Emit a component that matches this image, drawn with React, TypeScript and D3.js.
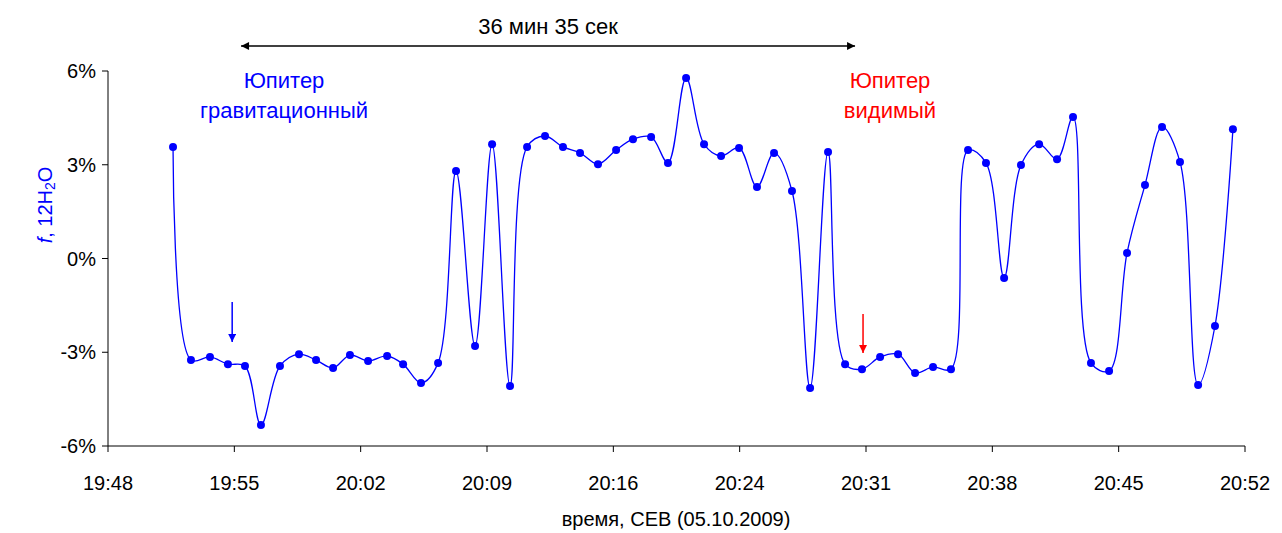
import React from 'react';
import * as d3 from 'd3';

// minutes after 19:48
const minutes = [3.66, 4.67, 5.74, 6.75, 7.71, 8.61, 9.68, 10.75, 11.71, 12.67, 13.62, 14.64, 15.71, 16.61, 17.62, 18.58,
  19.59, 20.66, 21.62, 22.63, 23.59, 24.6, 25.61, 26.57, 27.58, 28.6, 29.55, 30.57, 31.52, 32.54, 33.55, 34.51, 35.52,
  36.53, 37.49, 38.5, 39.52, 40.53, 41.49, 42.44, 43.46, 44.47, 45.43, 46.44, 47.45, 48.41, 49.42, 50.44, 51.39, 52.41,
  53.42, 54.32, 55.33, 56.35, 57.36, 58.37, 59.33, 60.34, 61.36, 62.31, 63.32];
const values = [3.57, -3.25, -3.15, -3.38, -3.44, -5.33, -3.44, -3.06, -3.25, -3.5, -3.09, -3.28, -3.12, -3.38, -3.98, -3.34,
  2.8, -2.8, 3.66, -4.08, 3.57, 3.92, 3.57, 3.38, 3.02, 3.47, 3.82, 3.89, 3.06, 5.78, 3.66, 3.28, 3.54,
  2.29, 3.38, 2.16, -4.14, 3.41, -3.38, -3.54, -3.15, -3.06, -3.66, -3.47, -3.54, 3.47, 3.06, -0.62, 2.99, 3.66,
  3.18, 4.53, -3.34, -3.6, 0.18, 2.35, 4.21, 3.09, -4.05, -2.16, 4.14];
const xTickLabels = ['19:48', '19:55', '20:02', '20:09', '20:16', '20:24', '20:31', '20:38', '20:45', '20:52'];
const yTicks = [-6, -3, 0, 3, 6];
const spanStart = 7.49;
const spanEnd = 42.05;
const gravMark = 6.99;
const visMark = 42.5;

const font = '"Liberation Sans", Arial, sans-serif';

export default function App() {
  const W = 1282, H = 533;
  const x = d3.scaleLinear().domain([0, 64]).range([108, 1245]);
  const y = d3.scaleLinear().domain([-6, 6]).range([446, 71]);
  const pts = minutes.map((m, i) => [m, values[i]] as [number, number]);
  const line = d3.line<[number, number]>().x(d => x(d[0])).y(d => y(d[1])).curve(d3.curveCatmullRom.alpha(0.5));
  const step = 64 / 9;

  return (
    <svg width={W} height={H} style={{ position: 'absolute', left: 0, top: 0 }} fontFamily={font}>
      <defs>
        <marker id="ah" viewBox="0 0 10 10" refX="10" refY="5" markerWidth="10" markerHeight="8" orient="auto-start-reverse" markerUnits="userSpaceOnUse">
          <path d="M0,0 L10,5 L0,10 z" fill="black" />
        </marker>
        <marker id="ab" viewBox="0 0 10 10" refX="10" refY="5" markerWidth="10" markerHeight="8" orient="auto" markerUnits="userSpaceOnUse">
          <path d="M0,0 L10,5 L0,10 z" fill="blue" />
        </marker>
        <marker id="ar" viewBox="0 0 10 10" refX="10" refY="5" markerWidth="10" markerHeight="8" orient="auto" markerUnits="userSpaceOnUse">
          <path d="M0,0 L10,5 L0,10 z" fill="red" />
        </marker>
      </defs>
      {/* axes */}
      <line x1={108} x2={108} y1={71} y2={446} stroke="black" />
      <line x1={108} x2={1245} y1={446} y2={446} stroke="black" />
      {yTicks.map(t => (
        <g key={t}>
          <line x1={102} x2={108} y1={y(t)} y2={y(t)} stroke="black" />
          <text x={96} y={y(t) + 7} textAnchor="end" fontSize={20}>{t === 0 ? '0%' : `${t}%`}</text>
        </g>
      ))}
      {xTickLabels.map((l, i) => (
        <g key={l}>
          <line x1={x(i * step)} x2={x(i * step)} y1={446} y2={452} stroke="black" />
          <text x={x(i * step)} y={490} textAnchor="middle" fontSize={20}>{l}</text>
        </g>
      ))}
      <text x={676} y={526} textAnchor="middle" fontSize={20}>время, СЕВ (05.10.2009)</text>
      <text transform="translate(52,205) rotate(-90)" textAnchor="middle" fontSize={20} fill="blue">
        <tspan fontStyle="italic">f</tspan>, 12H<tspan fontSize={14} dy={3}>2</tspan><tspan dy={-3}>O</tspan>
      </text>
      {/* data */}
      <path d={line(pts) ?? ''} fill="none" stroke="blue" strokeWidth={1.3} />
      {pts.map((p, i) => <circle key={i} cx={x(p[0])} cy={y(p[1])} r={4} fill="blue" />)}
      {/* annotations */}
      <line x1={x(spanStart)} x2={x(spanEnd)} y1={46} y2={46} stroke="black" strokeWidth={1.5} markerStart="url(#ah)" markerEnd="url(#ah)" />
      <text x={(x(spanStart) + x(spanEnd)) / 2} y={34} textAnchor="middle" fontSize={22}>36 мин 35 сек</text>
      <text x={284} y={88} textAnchor="middle" fontSize={22} fill="blue">Юпитер</text>
      <text x={284} y={118} textAnchor="middle" fontSize={22} fill="blue">гравитационный</text>
      <text x={890} y={88} textAnchor="middle" fontSize={22} fill="red">Юпитер</text>
      <text x={890} y={118} textAnchor="middle" fontSize={22} fill="red">видимый</text>
      <line x1={x(gravMark)} x2={x(gravMark)} y1={302} y2={342} stroke="blue" strokeWidth={1.5} markerEnd="url(#ab)" />
      <line x1={x(visMark)} x2={x(visMark)} y1={314} y2={353} stroke="red" strokeWidth={1.5} markerEnd="url(#ar)" />
    </svg>
  );
}
